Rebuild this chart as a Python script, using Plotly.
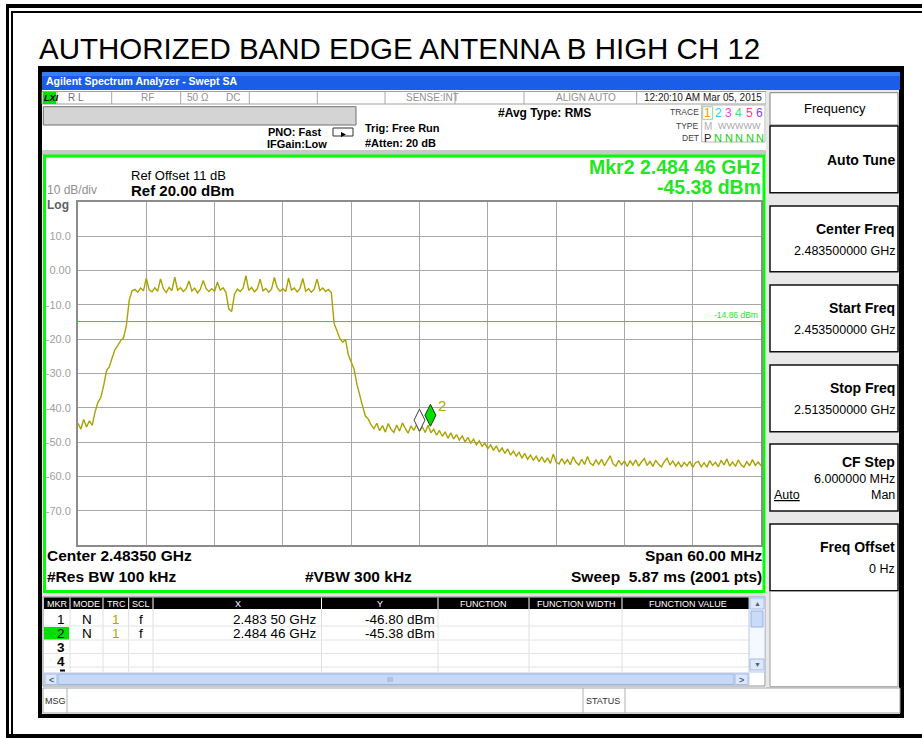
import numpy as np
import plotly.graph_objects as go

# ---------------- data ----------------
title_text = "AUTHORIZED BAND EDGE ANTENNA B HIGH CH 12"
start_ghz = 2.4535
stop_ghz = 2.5135
n_points = 241
levels_dbm = [
    -44.5, -46.2, -43.4, -45.6, -43.8, -45.1, -41.2, -38.4, -37.0, -33.6, -29.2, -28.0, -25.4, -23.0, -21.8, -20.4, -19.6, -16.0, -8.6, -5.9,
    -5.5, -6.3, -5.1, -5.9, -2.2, -5.6, -6.2, -5.0, -6.0, -2.4, -5.3, -6.4, -4.9, -5.8, -1.9, -5.7, -5.0, -6.1, -5.3, -3.0,
    -5.9, -5.1, -6.5, -5.4, -2.9, -5.2, -6.1, -5.3, -6.0, -3.4, -5.7, -5.0, -6.4, -11.2, -11.9, -6.9, -5.4, -6.1, -5.1, -1.5,
    -5.8, -4.9, -6.2, -5.3, -2.5, -5.9, -5.2, -6.3, -5.4, -2.0, -5.0, -6.0, -5.3, -6.1, -2.1, -5.7, -5.1, -6.2, -5.2, -2.3,
    -6.0, -5.3, -6.3, -5.4, -2.5, -5.8, -5.1, -6.1, -5.5, -6.4, -15.4, -17.6, -19.8, -20.9, -20.1, -24.6, -26.9, -28.7, -33.1, -36.6,
    -39.5, -42.4, -43.3, -45.0, -46.1, -44.5, -46.7, -45.2, -47.1, -44.6, -46.3, -47.2, -45.0, -46.8, -44.4, -46.0, -47.4, -45.3, -46.6, -44.9,
    -46.8, -45.6, -47.2, -45.1, -47.3, -46.2, -48.0, -46.6, -48.3, -47.0, -48.9, -47.3, -49.1, -47.8, -49.4, -48.2, -49.9, -48.6, -50.3, -49.1,
    -50.8, -49.6, -51.2, -50.3, -51.9, -50.8, -52.4, -51.1, -52.9, -51.7, -53.3, -52.0, -53.8, -52.6, -54.1, -53.0, -54.6, -53.3, -55.0, -53.8,
    -55.3, -54.1, -55.7, -54.3, -55.9, -54.6, -56.2, -53.5, -55.8, -56.4, -54.8, -56.3, -55.1, -56.6, -54.3, -55.9, -56.7, -55.0, -56.5, -54.2,
    -56.1, -56.8, -55.2, -56.5, -55.0, -56.9, -55.4, -54.0, -56.3, -57.0, -55.3, -56.6, -55.5, -57.1, -55.4, -56.7, -55.2, -57.0, -55.8, -54.8,
    -56.8, -55.6, -57.1, -55.3, -56.5, -57.2, -55.7, -54.7, -56.7, -55.5, -57.0, -55.8, -57.3, -55.9, -56.9, -55.6, -57.4, -56.0, -55.6, -57.2,
    -56.0, -57.3, -55.4, -56.8, -55.9, -57.2, -55.3, -56.7, -54.9, -57.0, -55.8, -57.1, -55.2, -56.6, -57.3, -55.7, -56.9, -55.1, -56.8, -55.8, -56.9,
]
ref_level = 20.0
db_per_div = 10.0
n_ydiv = 10
ytick_vals = [10, 0, -10, -20, -30, -40, -50, -60, -70]
ytick_text = ["10.0", "0.00", "-10.0", "-20.0", "-30.0", "-40.0", "-50.0", "-60.0", "-70.0"]
display_line_dbm = -14.86
marker_ids = ["1", "2"]
marker_freq_ghz = [2.48350, 2.48446]
marker_level_dbm = [-46.80, -45.38]
marker_x_text = ["2.483 50 GHz", "2.484 46 GHz"]
marker_y_text = ["-46.80 dBm", "-45.38 dBm"]

freqs = np.linspace(start_ghz, stop_ghz, n_points)

# ---------------- helpers ----------------
W, H = 922, 738
AR = "Arial, Liberation Sans, sans-serif"
shapes = []
annos = []


def px(x):
    return x / W


def py(y):
    return 1 - y / H


def rect(x0, y0, x1, y1, fill=None, line=None, lw=1, layer="below"):
    shapes.append(dict(type="rect", xref="paper", yref="paper",
                       x0=px(x0), x1=px(x1), y0=py(y1), y1=py(y0),
                       fillcolor=fill if fill else "rgba(0,0,0,0)",
                       line=dict(color=line if line else "rgba(0,0,0,0)", width=lw if line else 0),
                       layer=layer))


def hline(x0, x1, y, color, lw=1, layer="below"):
    shapes.append(dict(type="line", xref="paper", yref="paper", x0=px(x0), x1=px(x1), y0=py(y), y1=py(y),
                       line=dict(color=color, width=lw), layer=layer))


def vline(x, y0, y1, color, lw=1, layer="below"):
    shapes.append(dict(type="line", xref="paper", yref="paper", x0=px(x), x1=px(x), y0=py(y0), y1=py(y1),
                       line=dict(color=color, width=lw), layer=layer))


def text(x, y, s, size=12, color="#000000", anchor="left", bold=False, family=AR):
    annos.append(dict(xref="paper", yref="paper", x=px(x), y=py(y),
                      text=("<b>%s</b>" % s) if bold else s, showarrow=False,
                      xanchor=anchor, yanchor="middle", borderpad=0,
                      font=dict(size=size, color=color, family=family)))


# ---------------- outer page frame ----------------
rect(6, 4, 922, 8, fill="#000000")
rect(12, 11, 922, 13, fill="#000000")
rect(6, 4, 9, 738, fill="#000000")
rect(11, 11, 13, 738, fill="#000000")
rect(6, 734, 922, 738, fill="#000000")

text(38, 48, title_text, size=29.5)

# ---------------- analyzer window ----------------
rect(38, 66, 904, 718, fill="#000000")
rect(42, 72, 900, 714, fill="#ffffff")
rect(42, 72, 900, 90, fill="#1a5ee8")
rect(42, 72, 900, 76, fill="#3a7cf2")
text(45, 81, "Agilent Spectrum Analyzer - Swept SA", size=10.5, color="#ffffff", bold=True)

# status row
rect(42, 91.5, 766, 104, fill="#ffffff", line="#a0a0a0", lw=1)
for xd in [57, 111.7, 180.7, 249.3, 317.3, 385, 455, 524, 636.7]:
    vline(xd, 91.5, 104, "#a8a8a8")
rect(43, 92, 56, 104, fill="#00e000")
text(43, 98, "<i>LXI</i>", size=9, color="#000000", bold=True)
text(67, 98, "R L", size=10, color="#707070")
text(140, 98, "RF", size=10, color="#909090")
text(186, 98, "50 Ω", size=10, color="#909090")
text(225, 98, "DC", size=10, color="#909090")
text(405, 98, "SENSE:INT", size=10, color="#909090")
text(555, 98, "ALIGN AUTO", size=10, color="#909090")
text(643, 98, "12:20:10 AM Mar 05, 2015", size=10, color="#202020")

# settings area
rect(43.3, 106.7, 356, 125, fill="#d4d4d4", line="#707070", lw=1)
text(323, 132, "PNO: Fast", size=11, anchor="right", bold=True)
text(328, 144, "IFGain:Low", size=11, anchor="right", bold=True)
rect(333, 128, 353, 136, fill="#ffffff", line="#303030", lw=1)
shapes.append(dict(type="path", xref="paper", yref="paper",
                   path="M %f,%f L %f,%f L %f,%f Z" % (px(341), py(132), px(346), py(134.5), px(341), py(137)),
                   fillcolor="#000000", line=dict(width=0), layer="above"))
text(364, 128, "Trig: Free Run", size=11, bold=True)
text(364, 143, "#Atten: 20 dB", size=11, bold=True)
text(497, 112.5, "#Avg Type: RMS", size=12, bold=True)

text(700, 112, "TRACE", size=8.5, color="#404040", anchor="right")
text(700, 126, "TYPE", size=8.5, color="#404040", anchor="right")
text(700, 137.5, "DET", size=8.5, color="#404040", anchor="right")
rect(701.7, 105, 765, 142, fill="#ffffff", line="#b8b8b8", lw=1)
rect(702.7, 106.7, 712.7, 119.3, fill="#ffffff", line="#a0c8a0", lw=1)
trace_cols = ["#f0a000", "#20d0f0", "#f040f0", "#40e080", "#ff4080", "#8040ff"]
for k, (cx, col) in enumerate(zip([707.7, 718.3, 728.3, 738.3, 749.3, 759.3], trace_cols)):
    text(cx, 113, str(k + 1), size=12, color=col, anchor="center")
text(708, 126, "M", size=10, color="#b0b0b0", anchor="center")
text(739, 126, "WWWWW", size=9, color="#a8a8a8", anchor="center")
text(707.7, 138, "P", size=11, color="#202020", anchor="center")
for cx in [718, 728.5, 739, 749.5, 760]:
    text(cx, 138, "N", size=11, color="#10d010", anchor="center")

# right soft-key panel
rect(766, 90, 900, 688, fill="#e8e8e8")
vline(900, 90, 688, "#000000", lw=2)
rect(770, 92.7, 898, 125, fill="#ffffff", line="#808080", lw=1)
text(835, 108, "Frequency", size=13, anchor="center")
boxes = [(126, 192.7), (206, 271.7), (285, 351.7), (365, 431.7), (444, 511), (524, 590.7)]
for (y0, y1) in boxes:
    rect(770, y0, 898, y1, fill="#ffffff", line="#101010", lw=1.5)
rect(770, 591.5, 898, 686.7, fill="#ffffff", line="#a0a0a0", lw=1)
text(896, 160, "Auto Tune", size=14, anchor="right", bold=True)
text(896, 229.3, "Center Freq", size=14, anchor="right", bold=True)
text(896, 250.7, "2.483500000 GHz", size=12.5, anchor="right")
text(896, 308.3, "Start Freq", size=14, anchor="right", bold=True)
text(896, 330, "2.453500000 GHz", size=12.5, anchor="right")
text(896, 388, "Stop Freq", size=14, anchor="right", bold=True)
text(896, 410, "2.513500000 GHz", size=12.5, anchor="right")
text(896, 461.7, "CF Step", size=14, anchor="right", bold=True)
text(896, 479.3, "6.000000 MHz", size=12.5, anchor="right")
text(773, 495, "<u>Auto</u>", size=12.5)
text(896, 495, "Man", size=12.5, anchor="right")
text(896, 546.7, "Freq Offset", size=14, anchor="right", bold=True)
text(896, 569.3, "0 Hz", size=12.5, anchor="right")

# graph frame
rect(42, 150, 766, 155, fill="#c8c8c8")
rect(44.5, 156, 764, 591.5, fill="#ffffff", line="#00ff00", lw=3)
rect(42, 593.5, 766, 597, fill="#e0e0e0")
text(130, 175.5, "Ref Offset 11 dB", size=13)
text(130, 190.5, "Ref 20.00 dBm", size=15, bold=True)
text(46, 190.5, "10 dB/div", size=12, color="#909090")
text(46, 205, "Log", size=12, color="#606060", bold=True)
GREEN = "#22e622"
text(762, 167, "Mkr2 2.484 46 GHz", size=19.5, color=GREEN, anchor="right", bold=True)
text(762, 186.5, "-45.38 dBm", size=19.5, color=GREEN, anchor="right", bold=True)
text(759, 315, "-14.86 dBm", size=8.5, color=GREEN, anchor="right")

text(46, 555.5, "Center 2.48350 GHz", size=15.5, bold=True)
text(46, 576.5, "#Res BW 100 kHz", size=15.5, bold=True)
text(304, 576.5, "#VBW 300 kHz", size=15.5, bold=True)
text(763, 555.5, "Span 60.00 MHz", size=15.5, anchor="right", bold=True)
text(763, 576.5, "Sweep  5.87 ms (2001 pts)", size=15.5, anchor="right", bold=True)

# marker table
rect(43, 597, 765, 686, fill="#ffffff", line="#909090", lw=1)
rect(44, 597.5, 749, 609, fill="#000000")
cols = [70, 103, 128.7, 153, 321.5, 438, 529, 622]
for xc in cols:
    vline(xc, 597.5, 609, "#ffffff", lw=1)
    vline(xc, 609, 672, "#e0e0e0", lw=1)
for yr in [626, 640, 653.5, 667]:
    hline(44, 749, yr, "#e4e4e4")
hdrs = [(57, "MKR"), (86.5, "MODE"), (116, "TRC"), (141, "SCL"), (238, "X"), (380, "Y"),
        (483, "FUNCTION"), (576, "FUNCTION WIDTH"), (688, "FUNCTION VALUE")]
for hx, hs in hdrs:
    text(hx, 603.5, hs, size=9, color="#ffffff", anchor="center")
rect(44, 627, 69, 639.5, fill="#00e000")
row_y = [619, 633]
for k in range(2):
    text(66, row_y[k], marker_ids[k], size=13.5, anchor="right")
    text(86.5, row_y[k], "N", size=13.5, anchor="center")
    text(115.5, row_y[k], "1", size=13.5, color="#b0a800", anchor="center")
    text(141, row_y[k], "f", size=13.5, anchor="center")
    text(318, row_y[k], marker_x_text[k], size=13.5, anchor="right")
    text(436, row_y[k], marker_y_text[k], size=13.5, anchor="right")
text(66, 647, "3", size=13.5, anchor="right", bold=True)
text(66, 661, "4", size=13.5, anchor="right", bold=True)
hline(60, 65, 670.5, "#000000", lw=2)
# vertical scrollbar
rect(749, 597, 765, 672, fill="#f4f8ff", line="#b8c8e0", lw=1)
rect(750, 598, 764, 609, fill="#dce8fb", line="#a8bce0", lw=1)
text(757, 603.5, "▲", size=7, color="#4d6185", anchor="center")
rect(751, 611, 763, 627, fill="#c8dcfa", line="#98b0e0", lw=1)
rect(750, 659, 764, 670, fill="#dce8fb", line="#a8bce0", lw=1)
text(757, 664.5, "▼", size=7, color="#4d6185", anchor="center")
# horizontal scrollbar
rect(44, 673, 749, 685, fill="#f4f8ff", line="#b8c8e0", lw=1)
rect(58, 674, 734, 684.5, fill="#c6daf8", line="#9ab4e2", lw=1)
rect(45, 674, 57, 684.5, fill="#dce8fb", line="#a8bce0", lw=1)
text(51, 679.5, "<", size=9, color="#4d6185", anchor="center", bold=True)
rect(735, 674, 748, 684.5, fill="#dce8fb", line="#a8bce0", lw=1)
text(741.5, 679.5, ">", size=9, color="#4d6185", anchor="center", bold=True)
text(390, 679.5, "III", size=7, color="#8098c8", anchor="center")
# message row
rect(43, 688, 900, 713, fill="#ffffff", line="#a0a0a0", lw=1)
vline(67, 688, 713, "#b0b0b0")
vline(583, 688, 713, "#b0b0b0")
vline(625, 688, 713, "#b0b0b0")
text(44, 700.5, "MSG", size=9, color="#303030")
text(585, 700.5, "STATUS", size=9, color="#303030")

# ---------------- the measurement plot ----------------
fig = go.Figure()
fig.add_trace(go.Scatter(x=[start_ghz, stop_ghz], y=[display_line_dbm, display_line_dbm], mode="lines",
                         line=dict(color="#00ee00", width=1), hoverinfo="skip"))
fig.add_trace(go.Scatter(x=freqs, y=levels_dbm, mode="lines",
                         line=dict(color="#aaa200", width=1.4), hoverinfo="skip"))

# marker diamonds (tip at marker point)
half_w = 0.00048
dia_h = 6.4
m_fill = ["#ffffff", "#00e000"]
m_line = ["#404040", "#104010"]
for k in range(2):
    fx, ly = marker_freq_ghz[k], marker_level_dbm[k]
    path = "M %f,%f L %f,%f L %f,%f L %f,%f Z" % (
        fx, ly, fx + half_w, ly + dia_h / 2, fx, ly + dia_h, fx - half_w, ly + dia_h / 2)
    shapes.append(dict(type="path", xref="x", yref="y", path=path, fillcolor=m_fill[k],
                       line=dict(color=m_line[k], width=1), layer="above"))
annos.append(dict(xref="x", yref="y", x=marker_freq_ghz[1], y=marker_level_dbm[1], text="2",
                  showarrow=False, xanchor="left", yanchor="bottom", xshift=6, yshift=10,
                  font=dict(size=15, color="#b0a800", family=AR)))

fig.update_layout(
    width=W, height=H, margin=dict(l=0, r=0, t=0, b=0),
    paper_bgcolor="#ffffff", plot_bgcolor="rgba(0,0,0,0)",
    showlegend=False, shapes=shapes, annotations=annos,
    xaxis=dict(domain=[78 / W, 761 / W], range=[start_ghz, stop_ghz], tick0=start_ghz,
               dtick=(stop_ghz - start_ghz) / 10, showticklabels=False, ticks="",
               showgrid=True, gridcolor="#a8a8a8", gridwidth=1.3, zeroline=False,
               showline=True, mirror=True, linecolor="#8c8c8c", linewidth=2, fixedrange=True),
    yaxis=dict(domain=[1 - 545 / H, 1 - 202 / H], range=[ref_level - n_ydiv * db_per_div, ref_level],
               tickvals=ytick_vals, ticktext=ytick_text, ticks="", ticklabelstandoff=3,
               tickfont=dict(size=11, color="#a0a0a0", family=AR),
               showgrid=True, gridcolor="#a8a8a8", gridwidth=1.3, zeroline=False,
               showline=True, mirror=True, linecolor="#8c8c8c", linewidth=2, fixedrange=True),
)

fig.write_html("out.html", config={"displayModeBar": False},
               post_script="document.body.style.margin='0px';document.body.style.overflow='hidden';")
